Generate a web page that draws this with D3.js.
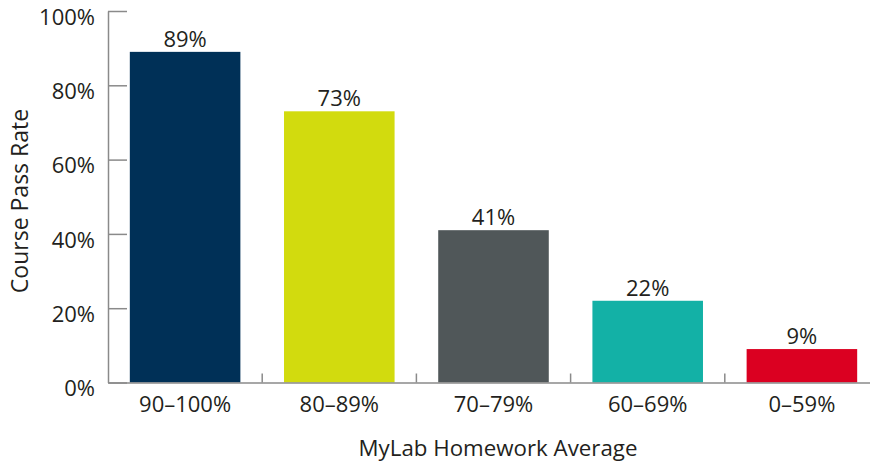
<!DOCTYPE html>
<html>
<head>
<meta charset="utf-8">
<script src="https://cdn.jsdelivr.net/npm/d3@7"></script>
<style>
  body { margin: 0; background: #fff; }
  svg { display: block; font-family: "Open Sans", sans-serif; }
</style>
</head>
<body>
<div class="canvas"></div>
<script>
// data
const categories = ['90–100%', '80–89%', '70–79%', '60–69%', '0–59%']
const passRates = [89, 73, 41, 22, 9]
const barColors = ['#003057', '#d2db0e', '#505759', '#13b1a6', '#db0021']
const yTicks = [0, 20, 40, 60, 80, 100]

const width = 870
const height = 463
const margin = { top: 11, right: -9, bottom: 80.5, left: 108 }
const graphWidth = width - margin.left - margin.right
const graphHeight = height - margin.top - margin.bottom

const textColor = '#231f20'
const axisColor = '#8a8a8a'

const svg = d3.select('.canvas')
    .append('svg')
    .attr('width', width)
    .attr('height', height)

const graph = svg.append('g')
    .attr('transform', `translate(${margin.left},${margin.top})`)

// scales
const x = d3.scaleBand()
    .domain(categories)
    .range([0, graphWidth])
    .paddingInner(0.283)
    .paddingOuter(0.1415)

const y = d3.scaleLinear()
    .domain([0, 100])
    .range([graphHeight, 0])

const data = categories.map((c, i) => ({ name: c, rate: passRates[i], color: barColors[i] }))

// bars
graph.selectAll('rect')
    .data(data)
    .enter()
    .append('rect')
    .attr('x', d => x(d.name))
    .attr('y', d => y(d.rate))
    .attr('width', x.bandwidth())
    .attr('height', d => graphHeight - y(d.rate))
    .attr('fill', d => d.color)

// value labels
graph.selectAll('.value')
    .data(data)
    .enter()
    .append('text')
    .attr('class', 'value')
    .attr('x', d => x(d.name) + x.bandwidth() / 2)
    .attr('y', d => y(d.rate) - 5)
    .attr('text-anchor', 'middle')
    .attr('font-size', 22)
    .attr('fill', textColor)
    .text(d => d.rate + '%')

// y axis
const yAxis = d3.axisLeft(y)
    .tickValues(yTicks)
    .tickFormat(d => d + '%')
    .tickSize(-19)
    .tickSizeOuter(0)
    .tickPadding(13)

const yAxisGroup = graph.append('g').call(yAxis)
yAxisGroup.select('.domain').attr('stroke', axisColor).attr('stroke-width', 1.5)
yAxisGroup.selectAll('.tick line').attr('stroke', axisColor).attr('stroke-width', 1.5)
yAxisGroup.selectAll('text')
    .attr('dy', '0.6em')
    .attr('font-size', 22)
    .attr('font-family', '"Open Sans", sans-serif')
    .attr('fill', textColor)

// x axis
const xAxis = d3.axisBottom(x)
    .tickSize(0)
    .tickSizeOuter(0)
    .tickPadding(14)

const xAxisGroup = graph.append('g')
    .attr('transform', `translate(0,${graphHeight})`)
    .call(xAxis)
xAxisGroup.select('.domain').attr('stroke', axisColor).attr('stroke-width', 1.5)
xAxisGroup.selectAll('text')
    .attr('dy', '0.71em')
    .attr('font-size', 22)
    .attr('font-family', '"Open Sans", sans-serif')
    .attr('fill', textColor)

// separators between categories
const gap = x.step() * x.paddingInner() / 2
xAxisGroup.selectAll('.sep')
    .data(categories.slice(0, -1))
    .enter()
    .append('line')
    .attr('class', 'sep')
    .attr('x1', d => x(d) + x.bandwidth() + gap)
    .attr('x2', d => x(d) + x.bandwidth() + gap)
    .attr('y1', 0)
    .attr('y2', -9)
    .attr('stroke', axisColor)
    .attr('stroke-width', 1.5)

// axis titles
svg.append('text')
    .attr('transform', 'translate(28,201) rotate(-90)')
    .attr('text-anchor', 'middle')
    .attr('font-size', 23)
    .attr('fill', textColor)
    .text('Course Pass Rate')

svg.append('text')
    .attr('x', 498)
    .attr('y', 456)
    .attr('text-anchor', 'middle')
    .attr('font-size', 22.3)
    .attr('fill', textColor)
    .text('MyLab Homework Average')
</script>
</body>
</html>
